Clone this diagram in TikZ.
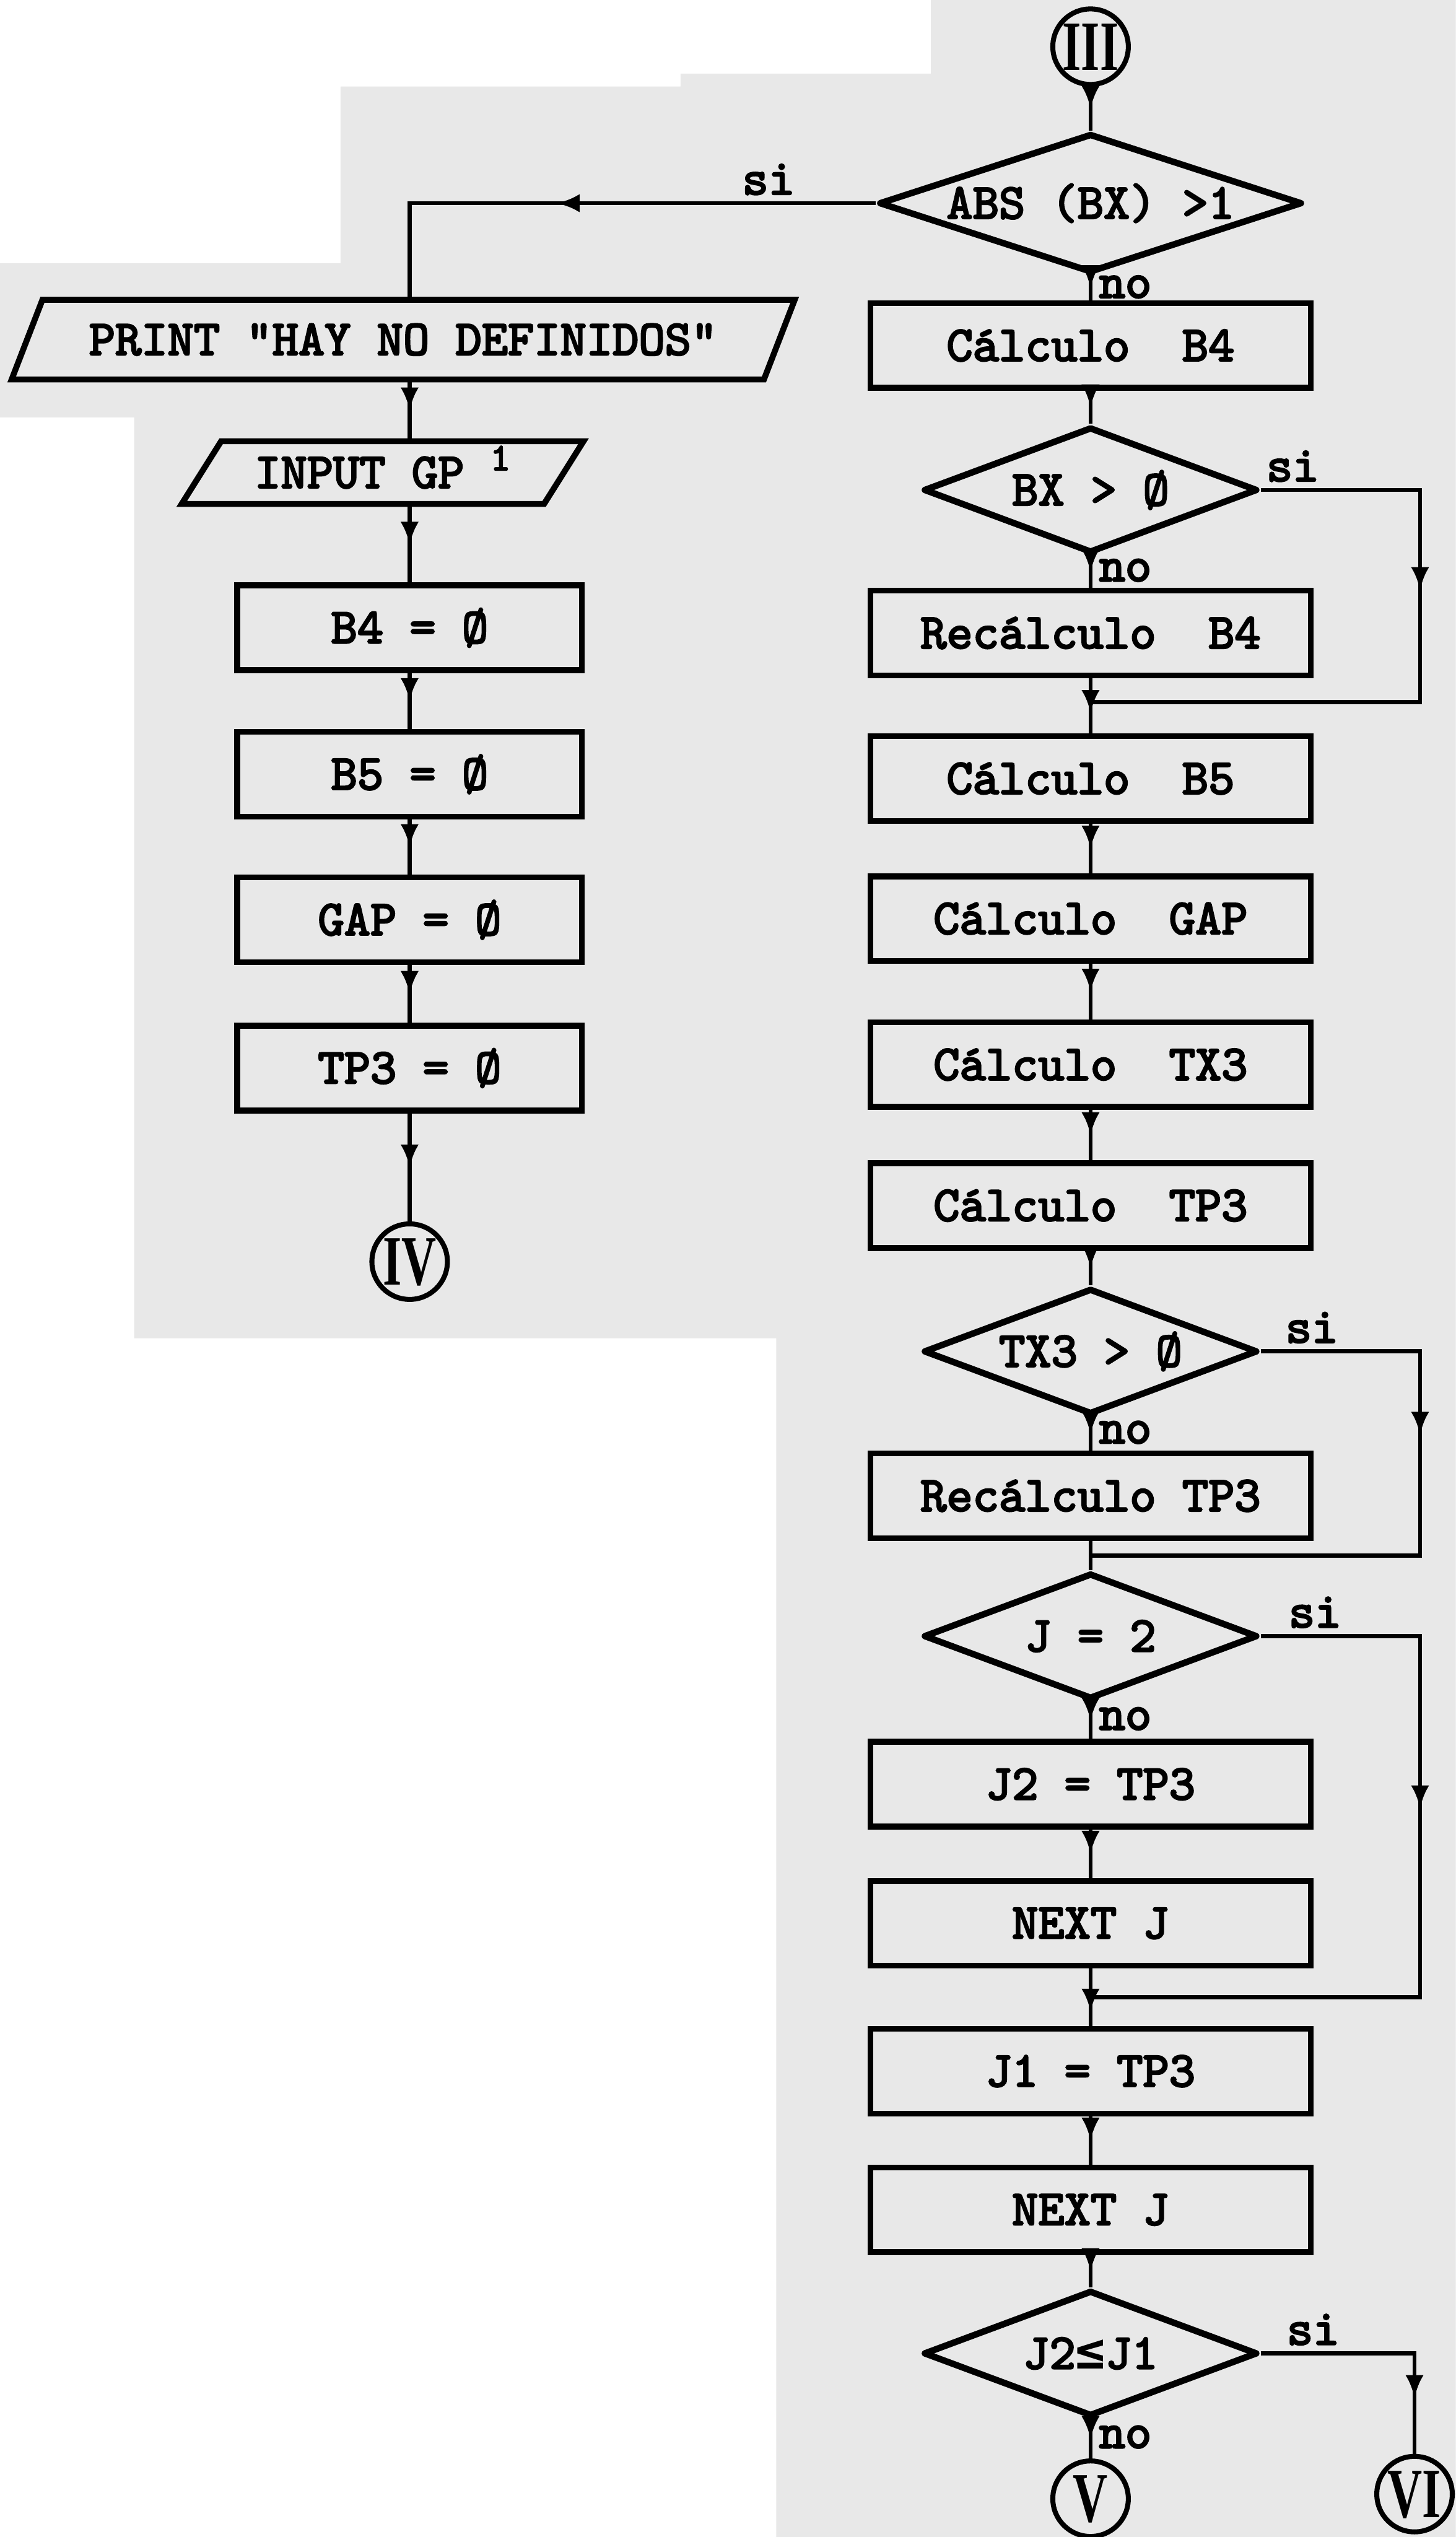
\documentclass[tikz,border=0pt]{standalone}
\usepackage{fontspec}
\usepackage{graphicx}
\usetikzlibrary{arrows.meta,positioning,calc,shapes.geometric,decorations.markings}
\newfontfamily\maquina{lmmono10-regular.otf}[FakeBold=3.5]
\newfontfamily\romana{Liberation Serif}
\newfontfamily\simbolo{DejaVu Sans Mono}
\newcommand{\letra}{\maquina\fontsize{31}{34}\selectfont}
\newcommand{\numrom}[1]{\scalebox{0.68}[1]{#1}}
\definecolor{papel}{gray}{0.91}

\begin{document}
\begin{tikzpicture}[
box/.style={draw,line width=3.7pt,minimum width=9.62cm,minimum height=1.85cm,font=\letra},
boxl/.style={box,minimum width=7.53cm},
dec/.style={diamond,draw,line width=4pt,line join=round,aspect=2.65,minimum width=7.3cm,
minimum height=2.75cm,inner sep=0pt,font=\letra},
io/.style={trapezium,trapezium stretches body,draw,line width=3.7pt,font=\letra},
conn/.style={circle,draw,line width=3.1pt,minimum size=1.65cm,inner sep=0pt,
text height=1.02cm,text depth=0pt,font=\romana\bfseries\fontsize{44}{44}\selectfont},
wire/.style={line width=2.6pt},
arr/.style={wire,postaction={decorate},decoration={markings,
mark=at position #1 with {\arrow{Latex[length=5mm,width=4mm]}}}},
arr/.default=0.5,
lbl/.style={font=\letra,inner sep=4pt}
]
\useasboundingbox (0,0) rectangle (31.81,-55.43);
% fondo del papel
\fill[papel] (20.34,0) -- (31.81,0) -- (31.81,-55.43) -- (16.96,-55.43) -- (16.96,-29.24)
  -- (2.93,-29.24) -- (2.93,-9.12) -- (0,-9.12) -- (0,-5.75) -- (7.44,-5.75) -- (7.44,-1.89)
  -- (14.87,-1.89) -- (14.87,-1.61) -- (20.34,-1.61) -- cycle;

% columna derecha
\node[conn] (iii) at (23.83,-1.02) {\numrom{III}};
\node[dec,aspect=3,minimum width=9.25cm,minimum height=3.04cm,below=0.95cm of iii] (d1) {ABS (BX) >1};
\node[box,below=0.53cm of d1] (cb4) {Cálculo~~B4};
\node[dec,below=0.72cm of cb4] (d2) {BX > Ø};
\node[box,below=0.69cm of d2] (rb4) {Recálculo~~B4};
\node[box,below=1.20cm of rb4] (cb5) {Cálculo~~B5};
\node[box,below=1.08cm of cb5] (cgap) {Cálculo~~GAP};
\node[box,below=1.21cm of cgap] (ctx3) {Cálculo~~TX3};
\node[box,below=1.10cm of ctx3] (ctp3) {Cálculo~~TP3};
\node[dec,below=0.75cm of ctp3] (d3) {TX3 > Ø};
\node[box,below=0.72cm of d3] (rtp3) {Recálculo TP3};
\node[dec,below=0.63cm of rtp3] (d4) {J = 2};
\node[box,below=0.80cm of d4] (j2) {J2 = TP3};
\node[box,below=1.06cm of j2] (nx1) {NEXT J};
\node[box,below=1.25cm of nx1] (j1) {J1 = TP3};
\node[box,below=1.05cm of j1] (nx2) {NEXT J};
\node[dec,below=0.70cm of nx2] (d5) {J2{\simbolo\bfseries ≤}J1};
\node[conn,below=0.85cm of d5] (v) {\numrom{V}};
\node[conn,right=5.32cm of v,yshift=0.1cm] (vi) {\numrom{VI}};

% columna izquierda
\node[io,trapezium left angle=54,trapezium right angle=126,minimum width=17.11cm,
minimum height=1.74cm] (print) at (8.81,-7.42) {PRINT "HAY NO DEFINIDOS"};
\node[io,trapezium left angle=47,trapezium right angle=133,minimum width=8.78cm,
minimum height=1.37cm,below=1.22cm of print,xshift=-0.45cm] (input)
{INPUT GP \smash{\raisebox{11pt}{\fontsize{24}{26}\selectfont 1}}};
\node[boxl,below=1.65cm of input,xshift=0.59cm] (b4) {B4 = Ø};
\node[boxl,below=1.22cm of b4] (b5) {B5 = Ø};
\node[boxl,below=1.20cm of b5] (lgap) {GAP = Ø};
\node[boxl,below=1.26cm of lgap] (ltp3) {TP3 = Ø};
\node[conn,below=2.36cm of ltp3] (iv) {\numrom{IV}};

% puntos de union
\coordinate (rail) at (31.03,-1);
\coordinate (m1) at ($(rb4.south)!0.43!(cb5.north)$);
\coordinate (m2) at ($(rtp3.south)!0.5!(d4.north)$);
\coordinate (m3) at ($(nx1.south)!0.5!(j1.north)$);

% flechas
\draw[arr] (iii) -- (d1);
\draw[arr] (d1) -- node[lbl,right,pos=0.45]{no} (cb4);
\draw[arr=0.57] (d1.west) -| node[lbl,above,pos=0.115]{si} (print.north -| b4);
\draw[arr] (cb4) -- (d2);
\draw[arr] (d2) -- node[lbl,right,pos=0.45]{no} (rb4);
\draw[arr=0.37] (d2.east) -| node[lbl,above,pos=0.1]{si} (rail |- m1) -- (m1);
\draw[arr=0.63] (rb4) -- (cb5);
\draw[arr] (cb5) -- (cgap);
\draw[arr] (cgap) -- (ctx3);
\draw[arr] (ctx3) -- (ctp3);
\draw[arr] (ctp3) -- (d3);
\draw[arr] (d3) -- node[lbl,right,pos=0.45]{no} (rtp3);
\draw[arr=0.35] (d3.east) -| node[lbl,above,pos=0.16]{si} (rail |- m2) -- (m2);
\draw[wire] (rtp3) -- (d4);
\draw[arr] (d4) -- node[lbl,right,pos=0.45]{no} (j2);
\draw[arr=0.39] (d4.east) -| node[lbl,above,pos=0.17]{si} (rail |- m3) -- (m3);
\draw[arr] (j2) -- (nx1);
\draw[arr=0.75] (nx1) -- (j1);
\draw[arr] (j1) -- (nx2);
\draw[arr] (nx2) -- (d5);
\draw[arr] (d5) -- node[lbl,right,pos=0.45]{no} (v);
\draw[arr=0.78] (d5.east) -| node[lbl,above,pos=0.17]{si} (vi.north);

\draw[arr] (print.south -| b4) -- (input.north -| b4);
\draw[arr] (input.south -| b4) -- (b4);
\draw[arr] (b4) -- (b5);
\draw[arr] (b5) -- (lgap);
\draw[arr] (lgap) -- (ltp3);
\draw[arr] (ltp3) -- (iv);
\end{tikzpicture}
\end{document}
